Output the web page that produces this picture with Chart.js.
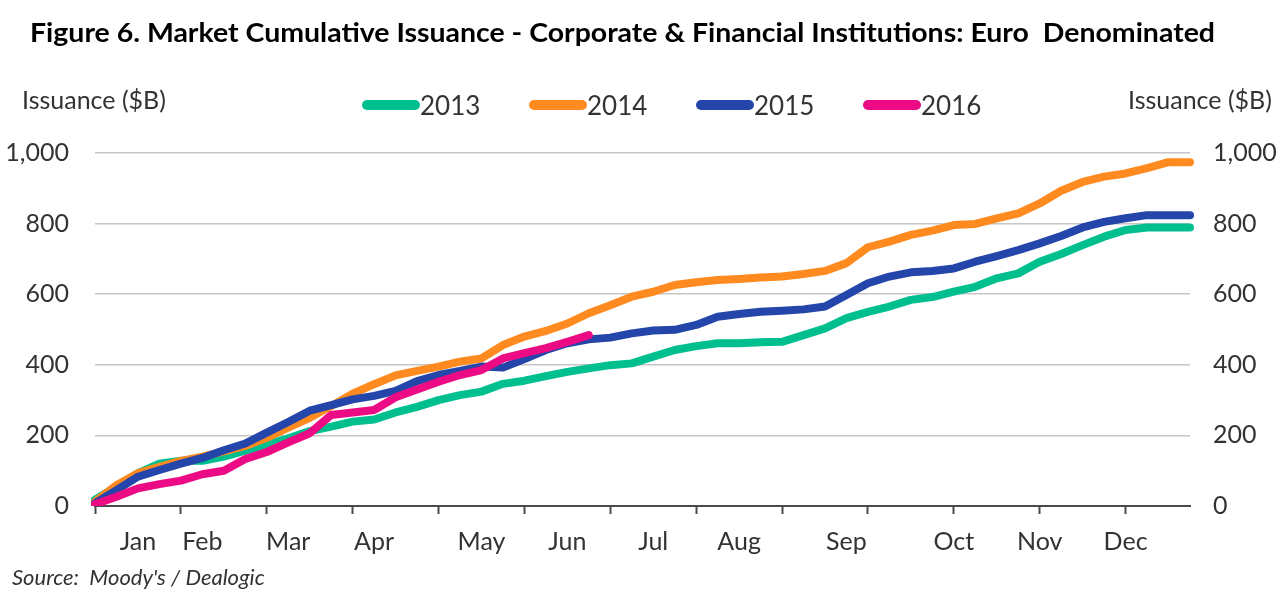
<!DOCTYPE html>
<html>
<head>
<meta charset="utf-8">
<script src="https://cdn.jsdelivr.net/npm/chart.js@4.4.1/dist/chart.umd.min.js"></script>
<style>
  html, body { margin: 0; padding: 0; background: #fff; }
  #wrap { position: relative; width: 1284px; height: 597px; overflow: hidden; font-family: Lato, "Noto Sans", sans-serif; }
  #chart { position: absolute; left: 0; top: 0; }
  .ov { position: absolute; white-space: nowrap; color: #333; }
  #title { left: 30px; top: 16px; font-weight: 700; font-size: 26px; color: #000; transform-origin: 0 0; }
  .axt { top: 84px; font-size: 25px; }
  #source { left: 12px; top: 563px; font-size: 22px; font-style: italic; color: #333; }
  .leg { position: absolute; top: 89px; display: flex; align-items: center; font-size: 26px; color: #333; }
  .sw { width: 58px; height: 10px; border-radius: 5px; margin-right: 0px; }
</style>
</head>
<body>
<div id="wrap">
  <canvas id="chart" width="1284" height="597"></canvas>
  <div id="title" class="ov">Figure 6. Market Cumulative Issuance - Corporate &amp; Financial Institutions: Euro&nbsp; Denominated</div>
  <div id="ytl" class="ov axt" style="left:22px">Issuance ($B)</div>
  <div id="ytr" class="ov axt" style="left:1128px">Issuance ($B)</div>
  <div id="source" class="ov">Source:&nbsp; Moody's / Dealogic</div>
</div>
<script>
// ---- Data (weekly cumulative issuance, $B) ----
const monthLabels = ["Jan","Feb","Mar","Apr","May","Jun","Jul","Aug","Sep","Oct","Nov","Dec"];
const monthWeekIndex = [2,5,9,13,18,22,26,30,35,40,44,48];
const weekCount = 52;
const yTicks = [0,200,400,600,800,1000];

const seriesNames = ["2013","2014","2015","2016"];
const seriesColors = ["#00BF8F","#FF8A1F","#2445AA","#EC0B84"];

const s2013 = [18,55,93,120,128,128,140,157,173,192,212,225,239,245,265,281,300,314,324,346,355,368,380,390,399,404,423,442,453,461,461,464,465,484,503,532,550,565,584,592,607,621,645,659,692,714,739,763,782,789,789,789];
const s2014 = [12,59,93,111,128,140,155,170,193,222,250,283,318,345,370,383,395,409,418,456,480,496,517,546,569,593,607,626,634,640,643,647,650,657,666,688,733,749,768,780,796,799,815,829,857,893,918,933,942,957,974,974];
const s2015 = [8,45,83,102,120,136,158,177,208,238,270,286,302,312,326,354,371,383,395,392,416,442,461,472,477,489,497,499,513,536,544,550,553,557,565,598,631,650,662,666,673,692,708,725,744,765,789,805,815,824,824,824];
const s2016 = [5,26,50,62,72,90,100,133,153,180,206,258,265,272,308,330,352,371,385,418,433,447,465,484];

const seriesData = [s2013, s2014, s2015, s2016];

// category labels: month names at their week positions
const labels = [];
for (let i = 0; i < weekCount; i++) labels.push("");
monthWeekIndex.forEach((w, k) => { labels[w] = monthLabels[k]; });

// ---- Legend (HTML) ----
const wrap = document.getElementById('wrap');
seriesNames.forEach((n, i) => {
  const d = document.createElement('div');
  d.className = 'leg';
  d.style.left = (362 + i * 167) + 'px';
  const sw = document.createElement('div');
  sw.className = 'sw';
  sw.style.background = seriesColors[i];
  const t = document.createElement('span');
  t.textContent = n;
  d.appendChild(sw); d.appendChild(t);
  wrap.appendChild(d);
});

// fit title width to reference span
(function(){
  const t = document.getElementById('title');
  const w = t.getBoundingClientRect().width;
  const target = 1185;
  t.style.transform = 'scaleX(' + (target / w) + ')';
})();

const tickFont = { family: "Lato, 'Noto Sans', sans-serif", size: 25 };

new Chart(document.getElementById('chart'), {
  type: 'line',
  data: {
    labels: labels,
    datasets: seriesData.map((d, i) => ({
      label: seriesNames[i],
      data: d,
      borderColor: seriesColors[i],
      backgroundColor: seriesColors[i],
      borderWidth: 8,
      pointRadius: 0,
      tension: 0,
      borderCapStyle: 'round',
      borderJoinStyle: 'round',
      fill: false,
      order: seriesNames.length - i,
      yAxisID: 'y'
    }))
  },
  options: {
    responsive: false,
    animation: false,
    devicePixelRatio: 1,
    layout: { padding: { top: 153, left: 0, right: 0, bottom: 0 } },
    plugins: { legend: { display: false }, title: { display: false }, tooltip: { enabled: false } },
    scales: {
      x: {
        type: 'category',
        offset: false,
        afterFit: s => { s.height = 91; },
        border: { display: true, color: '#4a4a4a', width: 2 },
        grid: {
          drawOnChartArea: false,
          drawTicks: true,
          tickLength: 8,
          tickWidth: 2,
          tickColor: ctx => (ctx.index % 4 === 0 ? '#4a4a4a' : 'rgba(0,0,0,0)')
        },
        ticks: { autoSkip: false, maxRotation: 0, minRotation: 0, padding: 13, color: '#333', font: tickFont }
      },
      y: {
        position: 'left',
        min: 0, max: 1000,
        afterFit: s => { s.width = 95; },
        afterBuildTicks: s => { s.ticks = yTicks.map(v => ({ value: v })); },
        border: { display: false },
        grid: { color: '#c6c6c6', lineWidth: 1.5, drawTicks: false },
        ticks: { padding: 26, color: '#333', font: tickFont, callback: v => v.toLocaleString('en-US') }
      },
      y2: {
        position: 'right',
        min: 0, max: 1000,
        afterFit: s => { s.width = 94; },
        afterBuildTicks: s => { s.ticks = yTicks.map(v => ({ value: v })); },
        border: { display: false },
        grid: { display: false, drawTicks: false },
        ticks: { padding: 23, color: '#333', font: tickFont, callback: v => v.toLocaleString('en-US') }
      }
    }
  }
});
</script>
</body>
</html>
